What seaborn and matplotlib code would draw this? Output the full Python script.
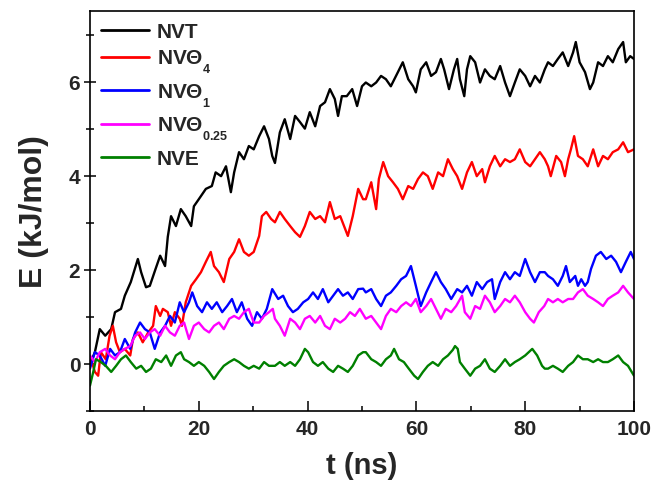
import matplotlib
matplotlib.use("Agg")
import matplotlib.pyplot as plt
from matplotlib.ticker import MultipleLocator
from matplotlib.lines import Line2D
import pandas as pd
import seaborn as sns

# (time in ns, energy in kJ/mol) samples for each ensemble
nvt = [(0, 0.0), (0.9, 0.25), (1.8, 0.74), (2.8, 0.6), (3.9, 0.74), (4.6, 1.1), (5.7, 1.17),
       (6.4, 1.45), (7.5, 1.74), (8.8, 2.23), (9.4, 1.95), (10.3, 1.63), (11.0, 1.66), (12.0, 2.0),
       (12.9, 2.3), (13.8, 2.08), (14.3, 2.7), (14.9, 3.14), (15.8, 2.93), (16.7, 3.29), (17.6, 3.14),
       (18.6, 2.93), (19.1, 3.35), (20.0, 3.5), (21.3, 3.72), (22.4, 3.78), (23.1, 4.07), (24.1, 3.99),
       (25.0, 4.2), (25.9, 3.65), (26.5, 4.07), (27.4, 4.5), (28.3, 4.35), (29.2, 4.63), (30.1, 4.56),
       (31.1, 4.84), (32.0, 5.05), (32.9, 4.78), (33.5, 4.42), (34.0, 4.27), (34.9, 4.92), (35.8, 5.2),
       (36.8, 4.78), (37.7, 5.27), (38.6, 5.14), (39.5, 5.0), (40.4, 5.35), (41.4, 5.05), (42.3, 5.48),
       (43.2, 5.56), (44.1, 5.84), (45.0, 5.63), (45.6, 5.27), (46.3, 5.69), (47.2, 5.69), (48.2, 5.84),
       (49.1, 5.48), (50.0, 5.9), (50.7, 5.98), (51.7, 5.9), (52.6, 5.98), (53.5, 6.12), (54.4, 6.05),
       (55.3, 5.9), (56.6, 6.2), (57.5, 6.41), (58.5, 6.05), (59.4, 5.9), (59.9, 5.77), (60.8, 6.26),
       (61.8, 6.41), (62.7, 6.12), (63.6, 6.2), (64.5, 6.48), (65.1, 6.26), (66.0, 5.84), (66.9, 6.26),
       (67.5, 6.48), (68.0, 6.05), (68.8, 5.69), (69.3, 6.26), (69.9, 6.54), (70.8, 6.41), (71.7, 5.98),
       (72.6, 6.26), (73.5, 6.12), (74.4, 6.05), (75.4, 6.33), (76.3, 5.98), (77.2, 5.69), (78.1, 5.98),
       (79.0, 6.26), (80.0, 6.12), (80.9, 5.9), (81.8, 6.12), (82.7, 5.98), (83.6, 6.26), (84.2, 6.41),
       (85.1, 6.33), (86.0, 6.48), (86.9, 6.62), (87.9, 6.33), (88.8, 6.62), (89.3, 6.84), (90.0, 6.41),
       (91.0, 6.2), (91.9, 5.84), (92.5, 5.98), (93.4, 6.41), (94.3, 6.33), (95.2, 6.54), (96.1, 6.41),
       (97.1, 6.69), (98.0, 6.84), (98.5, 6.41), (99.3, 6.54), (100, 6.48)]

nvtheta_4 = [(0, 0.0), (0.2, 0.1), (0.9, -0.17), (1.5, -0.25), (2.0, 0.25), (2.9, 0.1), (3.6, 0.6),
             (4.2, 0.81), (4.8, 0.46), (5.5, 0.25), (6.4, 0.32), (7.4, 0.18), (7.9, 0.53), (8.8, 0.67),
             (9.7, 0.46), (10.7, 0.67), (11.6, 0.81), (12.1, 1.23), (12.9, 1.02), (13.4, 1.17),
             (14.3, 1.1), (14.9, 0.81), (15.6, 1.1), (16.5, 0.96), (16.9, 0.81), (17.6, 1.31),
             (18.6, 1.66), (19.5, 1.8), (20.4, 1.95), (21.3, 2.17), (22.2, 2.38), (22.8, 2.08),
             (23.7, 1.95), (24.6, 1.74), (25.6, 2.23), (26.5, 2.38), (27.4, 2.65), (28.3, 2.38),
             (29.2, 2.3), (30.1, 2.38), (31.1, 2.72), (31.6, 3.14), (32.4, 3.23), (33.3, 3.08),
             (34.0, 3.01), (34.9, 3.23), (35.8, 3.08), (36.8, 2.93), (37.7, 2.8), (38.6, 2.7),
             (39.5, 2.93), (40.4, 3.23), (41.4, 3.08), (42.3, 3.14), (43.2, 3.01), (44.1, 3.44),
             (45.0, 3.08), (46.0, 3.14), (46.9, 2.87), (47.4, 2.72), (48.3, 3.14), (49.3, 3.72),
             (50.2, 3.5), (50.7, 3.5), (51.7, 3.86), (52.6, 3.29), (53.1, 3.93), (53.9, 4.29),
             (54.8, 3.99), (55.7, 3.86), (56.6, 3.72), (57.5, 3.5), (58.5, 3.78), (59.4, 3.72),
             (60.3, 3.93), (61.2, 4.07), (62.1, 3.99), (63.0, 3.72), (64.0, 4.07), (64.9, 3.99),
             (65.8, 4.35), (66.7, 4.14), (67.5, 3.99), (68.4, 3.72), (69.3, 4.07), (70.2, 4.29),
             (71.1, 3.99), (72.1, 4.14), (72.6, 3.86), (73.5, 4.2), (74.4, 4.42), (75.4, 4.2),
             (76.3, 4.35), (77.2, 4.29), (78.1, 4.35), (79.0, 4.56), (80.0, 4.29), (80.9, 4.2),
             (81.8, 4.35), (82.7, 4.5), (83.6, 4.35), (84.2, 4.2), (84.7, 3.99), (85.7, 4.42),
             (86.6, 4.29), (87.3, 3.99), (87.9, 4.35), (88.4, 4.56), (89.0, 4.84), (89.7, 4.42),
             (90.6, 4.35), (91.5, 4.2), (92.5, 4.56), (93.4, 4.2), (94.3, 4.42), (95.2, 4.35),
             (96.1, 4.5), (97.1, 4.56), (98.0, 4.71), (98.9, 4.5), (100, 4.56)]

nvtheta_1 = [(0, -0.1), (0.9, 0.25), (1.8, 0.18), (2.8, -0.04), (3.7, 0.32), (4.6, 0.18), (5.5, 0.25),
             (6.4, 0.53), (7.4, 0.32), (8.3, 0.67), (9.2, 0.88), (10.1, 0.74), (11.0, 0.67),
             (11.9, 0.32), (12.9, 0.67), (13.8, 0.81), (14.7, 1.02), (15.6, 0.88), (16.5, 1.31),
             (17.3, 1.1), (18.2, 1.31), (18.8, 1.52), (19.7, 1.23), (20.6, 1.1), (21.5, 1.31),
             (22.4, 1.17), (23.3, 1.31), (24.3, 1.1), (25.2, 1.23), (26.1, 1.38), (27.0, 1.1),
             (27.9, 1.31), (28.9, 0.96), (29.8, 0.81), (30.7, 1.1), (31.6, 0.96), (32.5, 1.17),
             (33.5, 1.59), (34.6, 1.38), (35.5, 1.45), (36.4, 1.23), (37.3, 1.1), (38.2, 1.17),
             (39.2, 1.31), (40.1, 1.38), (41.0, 1.52), (41.9, 1.38), (42.8, 1.59), (43.8, 1.31),
             (44.7, 1.45), (45.6, 1.59), (46.5, 1.45), (47.4, 1.52), (48.3, 1.38), (49.3, 1.59),
             (50.2, 1.6), (50.7, 1.52), (51.7, 1.59), (52.6, 1.38), (53.5, 1.23), (54.4, 1.45),
             (55.3, 1.52), (56.3, 1.66), (57.2, 1.8), (58.1, 1.87), (59.0, 2.08), (59.9, 1.66),
             (60.8, 1.23), (61.8, 1.52), (62.7, 1.74), (63.6, 1.95), (64.5, 1.74), (65.4, 1.59),
             (66.4, 1.38), (67.5, 1.59), (68.4, 1.52), (69.3, 1.66), (70.2, 1.45), (71.1, 1.74),
             (72.1, 1.59), (73.0, 1.74), (73.9, 1.8), (74.4, 1.38), (75.4, 1.74), (76.3, 1.95),
             (77.2, 1.8), (78.1, 1.95), (79.0, 1.87), (80.0, 2.23), (80.9, 1.95), (81.8, 1.74),
             (82.7, 1.95), (83.6, 1.95), (84.2, 1.87), (85.1, 1.8), (86.0, 1.66), (86.9, 1.87),
             (87.5, 2.08), (88.2, 1.74), (89.2, 1.87), (89.7, 1.66), (90.3, 1.8), (91.0, 1.66),
             (91.5, 1.74), (92.1, 2.02), (93.0, 2.3), (93.9, 2.38), (94.9, 2.23), (95.8, 2.3),
             (96.7, 2.17), (97.6, 1.95), (98.5, 2.17), (99.4, 2.38), (100, 2.23)]

nvtheta_025 = [(0, 0.18), (0.9, 0.04), (1.8, 0.25), (2.8, 0.32), (3.7, 0.18), (4.6, 0.1), (5.5, 0.25),
               (6.4, 0.32), (7.4, 0.38), (8.3, 0.6), (9.2, 0.67), (10.1, 0.53), (11.0, 0.67),
               (11.9, 0.74), (12.9, 0.6), (13.8, 0.81), (14.7, 0.67), (15.6, 0.6), (16.5, 0.81),
               (17.3, 0.88), (18.2, 0.53), (19.1, 0.81), (20.0, 0.88), (21.0, 0.74), (21.9, 0.67),
               (22.8, 0.81), (23.7, 0.88), (24.6, 0.74), (25.6, 0.96), (26.5, 1.02), (27.4, 0.96),
               (28.3, 1.1), (29.2, 1.17), (30.1, 0.88), (31.1, 0.88), (32.0, 1.02), (32.9, 1.1),
               (33.6, 1.17), (34.0, 0.96), (34.9, 0.81), (35.8, 0.6), (36.8, 0.96), (37.7, 0.88),
               (38.6, 0.74), (39.5, 0.96), (40.4, 1.02), (41.4, 0.88), (42.3, 1.02), (43.2, 0.81),
               (44.1, 0.74), (45.0, 0.96), (46.0, 0.88), (46.9, 0.96), (47.8, 1.1), (48.7, 1.02),
               (49.6, 1.17), (50.7, 0.96), (51.7, 1.02), (52.6, 0.88), (53.5, 0.74), (54.4, 1.02),
               (55.3, 1.17), (56.3, 1.1), (57.2, 1.23), (58.1, 1.31), (59.0, 1.23), (59.9, 1.38),
               (60.8, 1.1), (61.8, 1.23), (62.7, 1.38), (63.6, 1.17), (64.5, 0.96), (65.4, 1.17),
               (66.4, 1.1), (67.3, 1.23), (68.4, 1.45), (68.9, 1.1), (69.9, 0.96), (70.8, 1.23),
               (71.7, 1.17), (72.6, 1.45), (73.5, 1.31), (74.4, 1.1), (75.4, 1.23), (76.3, 1.38),
               (77.2, 1.31), (78.1, 1.45), (79.0, 1.31), (80.0, 1.1), (80.9, 0.96), (81.6, 0.88),
               (82.5, 1.1), (83.5, 1.23), (84.2, 1.38), (85.1, 1.31), (86.0, 1.38), (86.9, 1.31),
               (87.9, 1.38), (88.8, 1.38), (89.7, 1.52), (90.6, 1.59), (91.5, 1.45), (92.5, 1.38),
               (93.4, 1.31), (94.3, 1.23), (95.2, 1.38), (96.1, 1.45), (97.1, 1.52), (98.0, 1.66),
               (98.9, 1.52), (100, 1.38)]

nve = [(0, -0.46), (0.6, -0.17), (1.1, 0.1), (2.0, 0.04), (2.9, -0.04), (3.9, -0.17), (4.8, -0.04),
       (5.7, 0.1), (6.6, 0.18), (7.5, 0.04), (8.5, -0.1), (9.4, -0.04), (10.3, -0.17), (11.2, -0.1),
       (12.1, 0.1), (13.1, 0.04), (14.0, 0.18), (14.9, -0.04), (15.8, 0.18), (16.7, 0.25),
       (17.3, 0.1), (18.2, 0.04), (19.1, -0.04), (20.0, 0.04), (21.0, -0.04), (21.9, -0.17),
       (22.8, -0.32), (23.7, -0.17), (24.6, -0.04), (25.6, 0.04), (26.5, 0.1), (27.4, 0.04),
       (28.3, -0.04), (29.2, -0.1), (30.1, -0.04), (31.1, -0.1), (32.0, 0.04), (32.9, -0.04),
       (34.0, -0.04), (34.9, 0.04), (35.8, -0.04), (36.8, 0.04), (37.7, -0.04), (38.6, 0.1),
       (39.5, 0.32), (40.1, 0.25), (41.0, 0.04), (41.9, -0.04), (42.8, 0.04), (43.8, -0.1),
       (44.7, -0.17), (45.6, -0.04), (46.5, -0.1), (47.4, -0.17), (48.3, -0.04), (49.3, 0.18),
       (50.2, 0.25), (50.7, 0.25), (51.7, 0.1), (52.6, 0.04), (53.5, -0.04), (54.4, 0.1),
       (55.3, 0.18), (55.9, 0.32), (56.8, 0.1), (57.7, 0.04), (58.6, -0.1), (59.6, -0.25),
       (60.3, -0.32), (61.2, -0.17), (62.1, -0.04), (63.0, 0.04), (64.0, -0.04), (64.9, 0.1),
       (65.8, 0.18), (66.7, 0.3), (67.1, 0.38), (67.6, 0.32), (68.0, 0.04), (68.9, -0.1),
       (69.9, -0.25), (70.8, -0.1), (71.7, -0.04), (72.6, 0.1), (73.5, -0.1), (74.4, -0.17),
       (75.4, -0.04), (76.3, 0.1), (77.2, -0.04), (78.1, 0.04), (79.0, 0.1), (80.0, 0.18),
       (81.3, 0.32), (82.2, 0.18), (83.1, -0.04), (83.6, -0.1), (84.2, -0.1), (85.1, -0.04),
       (86.0, -0.1), (86.9, -0.17), (87.9, -0.04), (88.8, 0.04), (89.7, 0.18), (90.6, 0.1),
       (91.5, 0.1), (92.5, 0.04), (93.4, 0.1), (94.3, 0.04), (95.2, 0.04), (96.1, 0.1),
       (97.1, 0.18), (98.0, 0.04), (98.9, -0.04), (100, -0.25)]

series_labels = ["NVT", "NVΘ$_{4}$", "NVΘ$_{1}$", "NVΘ$_{0.25}$", "NVE"]
series_data = [nvt, nvtheta_4, nvtheta_1, nvtheta_025, nve]
series_colors = ["#000000", "#ff0000", "#0000ff", "#ff00ff", "#008000"]

sns.set_theme(style="ticks")
plt.rcParams["font.family"] = ["Liberation Sans", "DejaVu Sans"]
plt.rcParams["font.weight"] = "bold"
plt.rcParams["mathtext.fontset"] = "custom"
plt.rcParams["mathtext.rm"] = "Liberation Sans:bold"
plt.rcParams["mathtext.it"] = "Liberation Sans:bold"
plt.rcParams["mathtext.bf"] = "Liberation Sans:bold"

# smaller legend subscripts, dropped below the baseline
try:
    import matplotlib._mathtext as _mt
    _mt.SHRINK_FACTOR = 0.6
    _mt.FontConstantsBase.sub1 = 0.82
except Exception:
    pass

frames = []
for label, pts in zip(series_labels, series_data):
    d = pd.DataFrame(pts, columns=["t", "E"])
    d["series"] = label
    frames.append(d)
df = pd.concat(frames, ignore_index=True)

fig = plt.figure(figsize=(6.53, 4.85), dpi=100)
ax = fig.add_axes([0.1378, 0.1505, 0.8331, 0.8248])

sns.lineplot(data=df, x="t", y="E", hue="series", hue_order=series_labels,
             palette=dict(zip(series_labels, series_colors)), estimator=None,
             sort=False, linewidth=1.7, ax=ax, legend=False)

ax.set_xlim(0, 100)
ax.set_ylim(-1, 7.5)
ax.xaxis.set_major_locator(MultipleLocator(20))
ax.xaxis.set_minor_locator(MultipleLocator(10))
ax.yaxis.set_major_locator(MultipleLocator(2))
ax.yaxis.set_minor_locator(MultipleLocator(1))
ax.tick_params(axis="x", which="major", direction="in", length=7, width=1.1,
               labelsize=15, pad=6, color="black")
ax.tick_params(axis="x", which="minor", direction="in", length=3.5, width=1.1, color="black")
ax.tick_params(axis="y", which="major", direction="inout", length=8, width=1.1,
               labelsize=15, pad=3, color="black")
ax.tick_params(axis="y", which="minor", direction="inout", length=6, width=1.1, color="black")
for lab in ax.get_xticklabels() + ax.get_yticklabels():
    lab.set_fontweight("bold")
for sp in ax.spines.values():
    sp.set_visible(True)
    sp.set_linewidth(1.2)
    sp.set_color("black")

ax.set_xlabel("t (ns)", fontsize=21, fontweight="bold", labelpad=9)
ax.set_ylabel("E (kJ/mol)", fontsize=23, fontweight="bold", labelpad=14)

handles = [Line2D([], [], color=c, lw=2) for c in series_colors]
ax.legend(handles, series_labels, loc="upper left", frameon=False,
          prop={"weight": "bold", "size": 15}, handlelength=2.3,
          handletextpad=0.35, labelspacing=0.32, borderaxespad=0.25,
          borderpad=0.3)

fig.savefig("out.png", dpi=100)
